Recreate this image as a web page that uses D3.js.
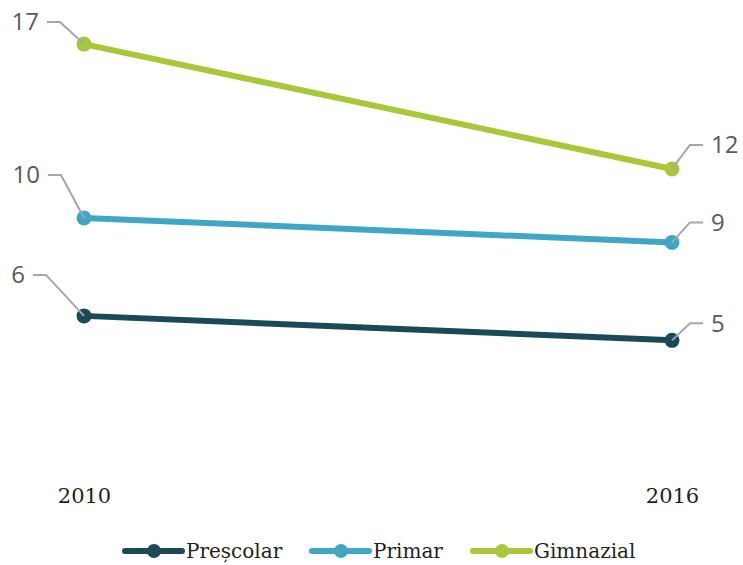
<!DOCTYPE html>
<html><head><meta charset="utf-8">
<script src="https://cdn.jsdelivr.net/npm/d3@7"></script>
<style>html,body{margin:0;padding:0;background:#fff;}</style>
</head><body>
<script>
const years = ["2010", "2016"];
const seriesNames = ["Preșcolar", "Primar", "Gimnazial"];
const prescolar = [5.6, 4.6];
const primar = [9.6, 8.6];
const gimnazial = [16.7, 11.6];
const colors = ["#1a4a57", "#41a5c4", "#a8c83a"];

const series = [prescolar, primar, gimnazial].map((v, i) => ({name: seriesNames[i], values: v, color: colors[i]}));

// label layout (leader offsets, left and right)
const leftLayout = [{ex: -38, ey: -41}, {ex: -23, ey: -43}, {ex: -24, ey: -22}];
const rightLayout = [{ex: 18, ey: -17}, {ex: 18, ey: -20}, {ex: 18, ey: -24}];

const W = 743, H = 565;
const svg = d3.select("body").append("svg").attr("width", W).attr("height", H);

const x = d3.scalePoint().domain(years).range([84, 672]);
const y = d3.scaleLinear().domain([0, 18.5]).range([453, 0]);

const line = d3.line().x((d, i) => x(years[i])).y(d => y(d));

const g = svg.append("g");
series.forEach(s => {
  g.append("path").attr("d", line(s.values)).attr("fill", "none")
    .attr("stroke", s.color).attr("stroke-width", 6).attr("stroke-linecap", "round");
});
series.forEach(s => {
  g.selectAll(null).data(s.values).enter().append("circle")
    .attr("cx", (d, i) => x(years[i])).attr("cy", d => y(d)).attr("r", 7.5).attr("fill", s.color);
});

const fmt = d3.format(".0f");
const lbl = svg.append("g");
series.forEach((s, si) => {
  s.values.forEach((v, i) => {
    const px = x(years[i]), py = y(v);
    const L = i === 0 ? leftLayout[si] : rightLayout[si];
    const dir = i === 0 ? -1 : 1;
    const ex = px + L.ex, ey = py + L.ey;
    const tx = ex + dir * 13;
    lbl.append("path").attr("d", `M${px},${py}L${ex},${ey}L${tx},${ey}`)
      .attr("fill", "none").attr("stroke", "#a6a6a6").attr("stroke-width", 2);
    lbl.append("text").attr("x", tx + dir * 8).attr("y", ey + 2)
      .attr("dominant-baseline", "middle")
      .attr("text-anchor", i === 0 ? "end" : "start")
      .attr("font-family", "'Open Sans', sans-serif").attr("font-size", 24)
      .attr("fill", "#595959").text(fmt(v));
  });
});

// x axis labels
const xAxis = d3.axisBottom(x).tickSize(0).tickPadding(0);
const ax = svg.append("g").attr("transform", "translate(0,488)").call(xAxis);
ax.select(".domain").remove();
ax.selectAll("text").attr("font-family", "'DejaVu Serif', serif").attr("font-size", 21)
  .attr("fill", "#1f1f1f").attr("dy", "0.71em");

// legend
const legX = [125, 312, 473];
const leg = svg.append("g");
series.forEach((s, i) => {
  const gx = legX[i], gy = 551;
  leg.append("line").attr("x1", gx).attr("x2", gx + 57).attr("y1", gy).attr("y2", gy)
    .attr("stroke", s.color).attr("stroke-width", 6).attr("stroke-linecap", "round");
  leg.append("circle").attr("cx", gx + 29).attr("cy", gy).attr("r", 7).attr("fill", s.color);
  leg.append("text").attr("x", gx + 61).attr("y", gy).attr("dy", "0.35em")
    .attr("font-family", "'DejaVu Serif', serif").attr("font-size", 20)
    .attr("fill", "#1f1f1f").text(s.name);
});
</script>
</body></html>
